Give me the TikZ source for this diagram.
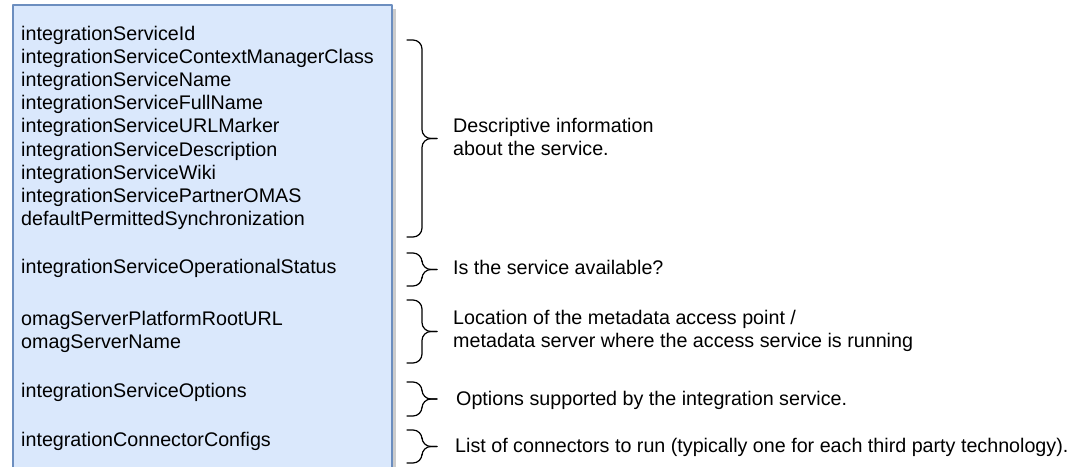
\documentclass[tikz,border=0pt]{standalone}
\usepackage{fontspec}
\setmainfont{Liberation Sans}
\usetikzlibrary{shadows}
\definecolor{boxfill}{HTML}{DAE8FC}
\definecolor{boxline}{HTML}{6C8EBF}
\tikzset{
  field/.style={anchor=base west, inner sep=0pt},
  note/.style={anchor=base west, inner sep=0pt},
  curly/.style={line width=1.2pt, rounded corners=9pt}
}
\begin{document}
\begin{tikzpicture}[x=1pt, y=-1pt, font=\fontsize{19.7}{23.6}\selectfont, line join=round, line cap=round]
  \useasboundingbox (0,0) rectangle (1086,466);
  % record box, cut off at the bottom
  \begin{scope}
    \clip (0,0) rectangle (1086,466);
    \draw[boxline, fill=boxfill, line width=1.5pt,
          drop shadow={shadow xshift=4pt, shadow yshift=-4pt, fill=black, opacity=0.2}]
      (13,5) rectangle (392,490);
  \end{scope}
  % fields
  \foreach \t [count=\i] in {integrationServiceId, integrationServiceContextManagerClass,
      integrationServiceName, integrationServiceFullName, integrationServiceURLMarker,
      integrationServiceDescription, integrationServiceWiki, integrationServicePartnerOMAS,
      defaultPermittedSynchronization}
    \node[field] (f\i) at (21,{40+23.2*(\i-1)}) {\t};
  \node[field] (status)   at (21,273) {integrationServiceOperationalStatus};
  \node[field] (rooturl)  at (21,325) {omagServerPlatformRootURL};
  \node[field] (srvname)  at (21,348) {omagServerName};
  \node[field] (options)  at (21,397) {integrationServiceOptions};
  \node[field] (configs)  at (21,446) {integrationConnectorConfigs};
  % brace ends and tips
  \coordinate (b1a) at (407,40);  \coordinate (b1m) at (437,138.5); \coordinate (b1b) at (407,237);
  \coordinate (b2a) at (407,253); \coordinate (b2m) at (437,269.5); \coordinate (b2b) at (407,286);
  \coordinate (b3a) at (407,300); \coordinate (b3m) at (437,331.5); \coordinate (b3b) at (407,363);
  \coordinate (b4a) at (407,382); \coordinate (b4m) at (437,399);   \coordinate (b4b) at (407,416);
  \coordinate (b5a) at (407,430); \coordinate (b5m) at (437,446.5); \coordinate (b5b) at (407,463);
  \foreach \b in {1,...,5}{
    \draw[curly] (b\b a) -- ++(15,0) |- (b\b m);
    \draw[curly] (b\b m) -- ++(-15,0) |- (b\b b);
  }
  % notes
  \node[note] (descr1) at (453,132) {Descriptive information};
  \node[note] (descr2) at (453,155) {about the service.};
  \node[note] (avail)  at (453,274) {Is the service available?};
  \node[note] (loc1)   at (453,324) {Location of the metadata access point /};
  \node[note] (loc2)   at (453,347) {metadata server where the access service is running};
  \node[note] (opts)   at (456,405) {Options supported by the integration service.};
  \node[note] (conns)  at (455,452) {List of connectors to run (typically one for each third party technology).};
\end{tikzpicture}
\end{document}
